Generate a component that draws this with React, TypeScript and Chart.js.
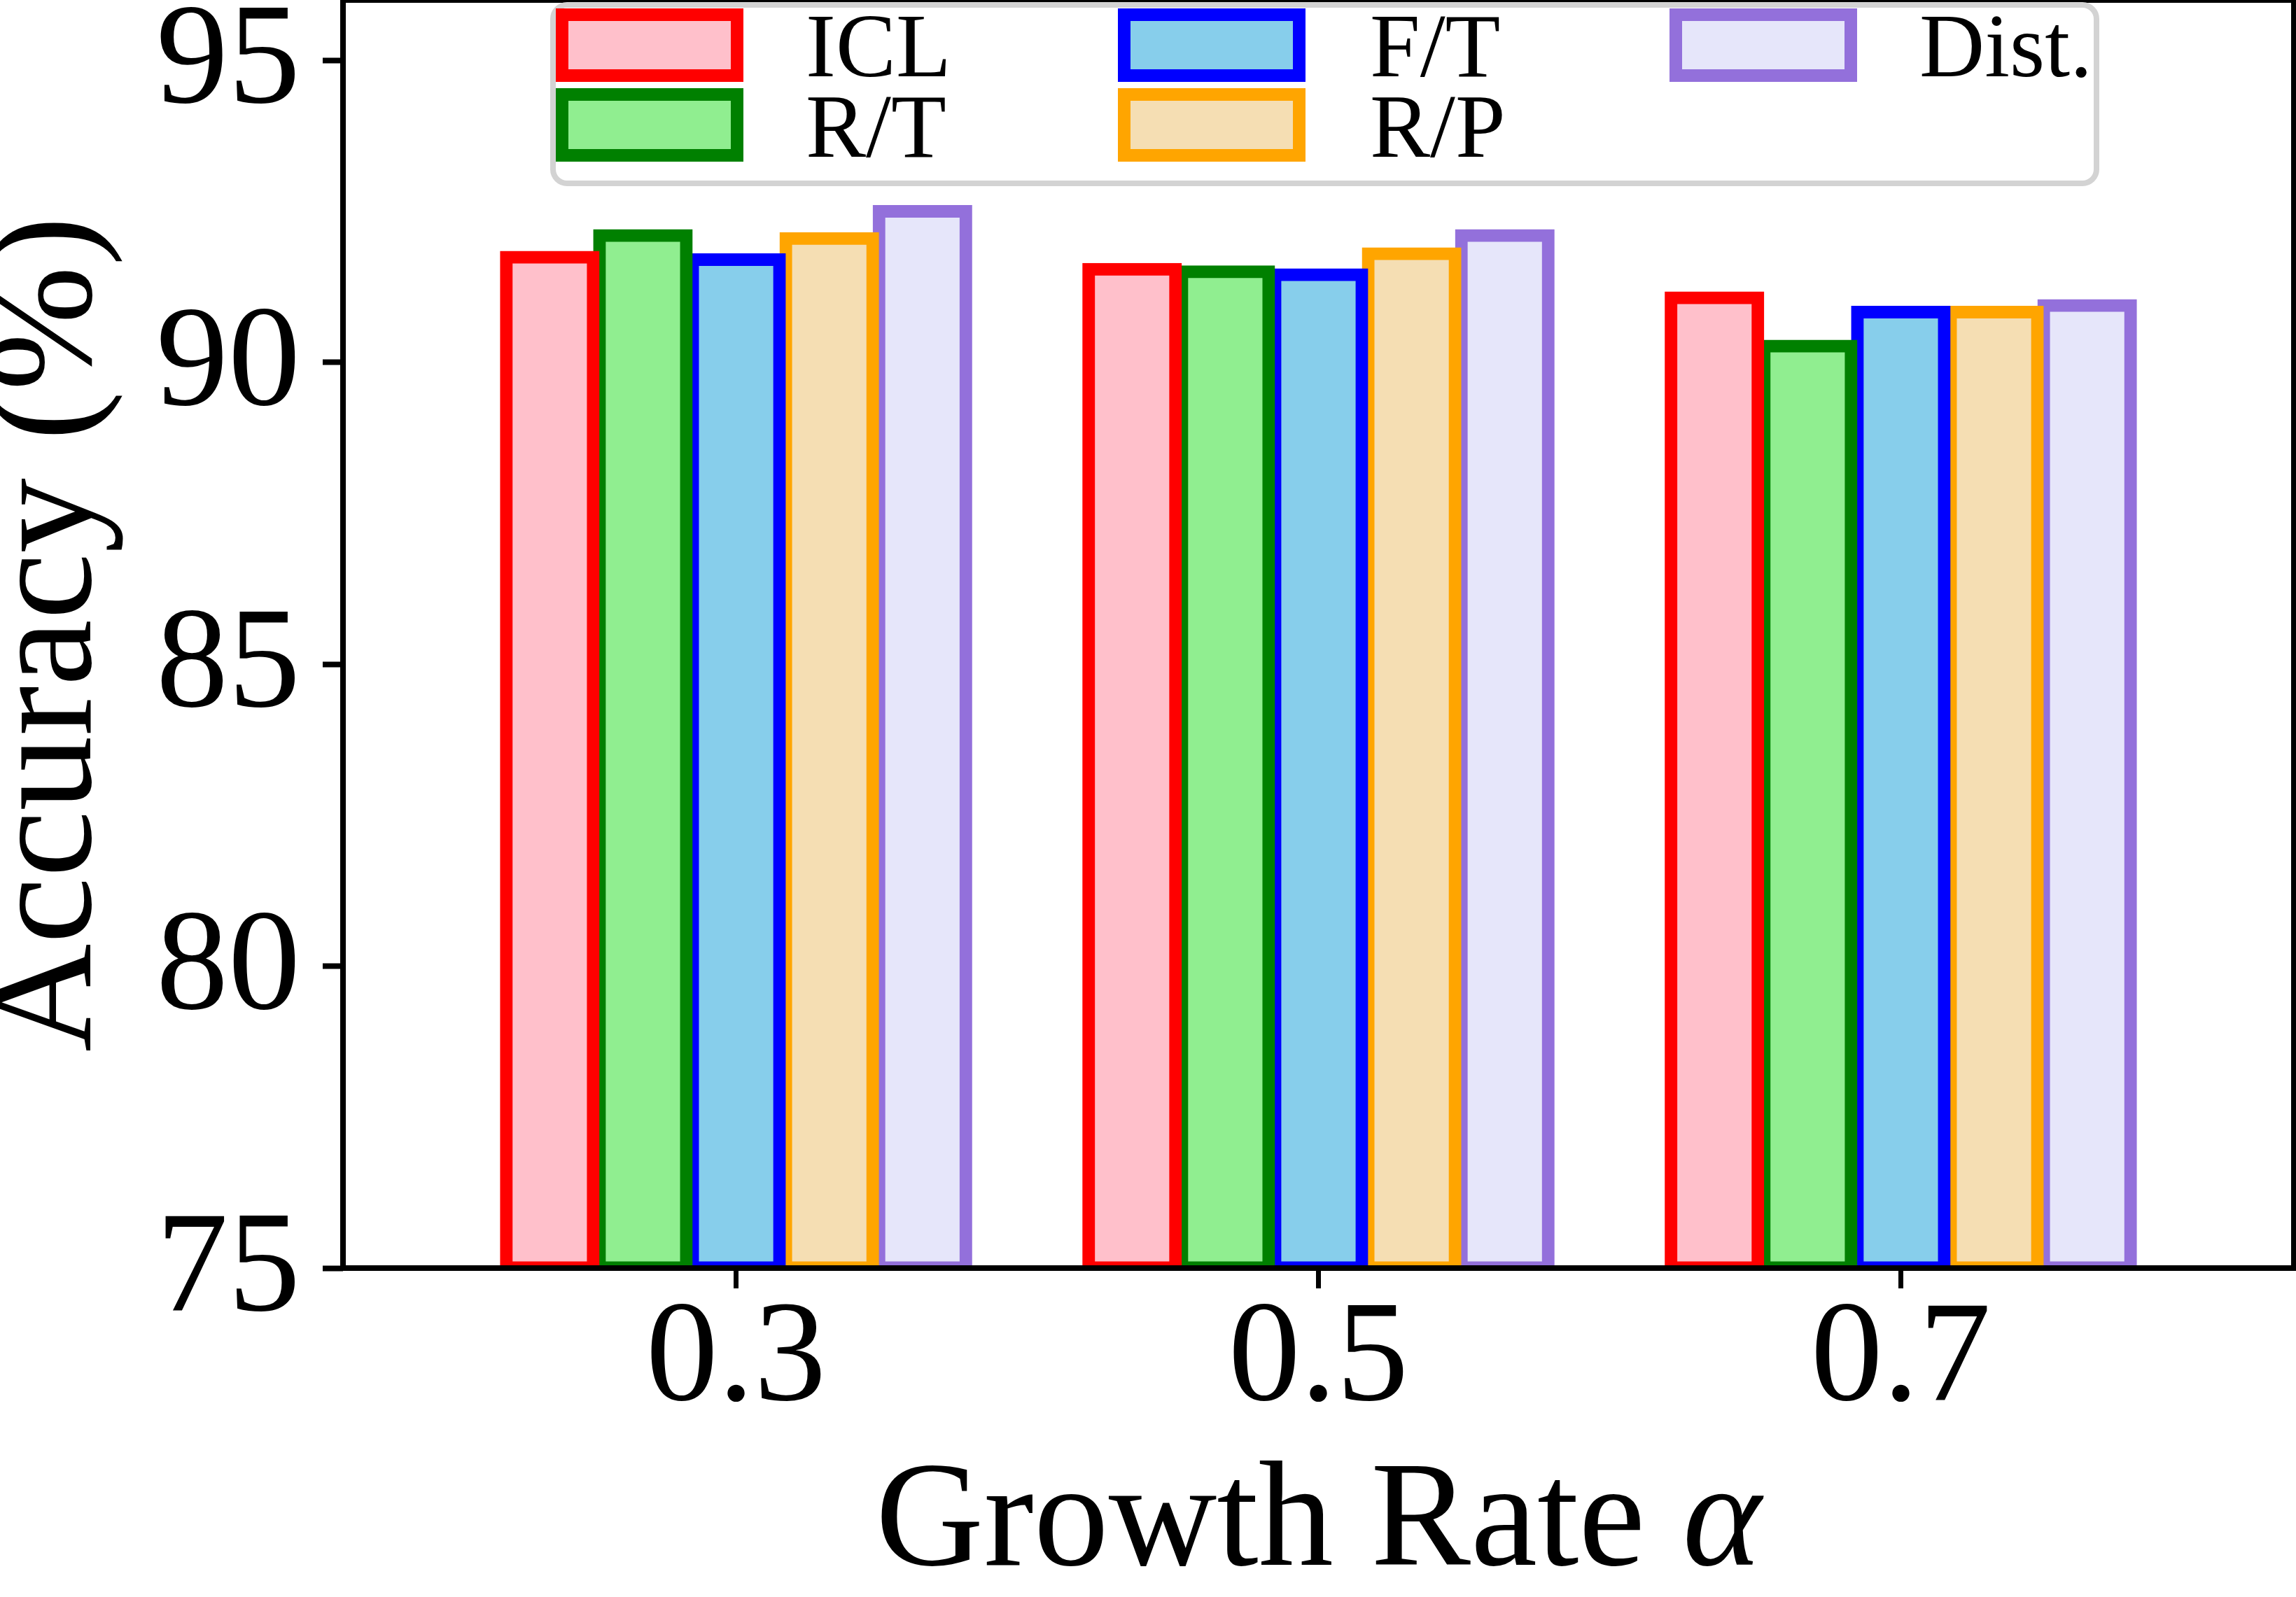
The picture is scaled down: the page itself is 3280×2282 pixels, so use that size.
import React, { useEffect, useRef } from 'react';
import { Chart, registerables } from 'chart.js';

Chart.register(...registerables);

// ---- data ----
const categories = [0.3, 0.5, 0.7];
const categoryLabels = ['0.3', '0.5', '0.7'];
const seriesNames = ['ICL', 'R/T', 'F/T', 'R/P', 'Dist.'];
const iclValues = [91.74, 91.54, 91.07];
const rtValues = [92.1, 91.5, 90.27];
const ftValues = [91.7, 91.45, 90.83];
const rpValues = [92.05, 91.8, 90.83];
const distValues = [92.5, 92.1, 90.94];
const yTickValues = [75, 80, 85, 90, 95];
const yTickLabels = ['75', '80', '85', '90', '95'];
const xAxisTitle = 'Growth Rate ';
const xAxisSymbol = 'α';
const yAxisTitle = 'Accuracy (%)';

// ---- styles ----
const FAMILY = '"Liberation Serif", "Times New Roman", serif';
const edgeColors = ['#ff0000', '#008000', '#0000ff', '#ffa500', '#9370db'];
const fillColors = ['#ffc0cb', '#90ee90', '#87ceeb', '#f5deb3', '#e6e6fa'];
const seriesValues = [iclValues, rtValues, ftValues, rpValues, distValues];

const framePlugin = {
  id: 'axesFrame',
  afterDatasetsDraw(chart: any) {
    const { ctx, chartArea } = chart;
    ctx.save();
    ctx.lineWidth = 8;
    ctx.strokeStyle = '#000';
    ctx.strokeRect(chartArea.left, chartArea.top, chartArea.right - chartArea.left, chartArea.bottom - chartArea.top);
    ctx.restore();
  },
};

function roundRectPath(ctx: CanvasRenderingContext2D, x: number, y: number, w: number, h: number, r: number) {
  ctx.beginPath();
  ctx.moveTo(x + r, y);
  ctx.lineTo(x + w - r, y);
  ctx.arcTo(x + w, y, x + w, y + r, r);
  ctx.lineTo(x + w, y + h - r);
  ctx.arcTo(x + w, y + h, x + w - r, y + h, r);
  ctx.lineTo(x + r, y + h);
  ctx.arcTo(x, y + h, x, y + h - r, r);
  ctx.lineTo(x, y + r);
  ctx.arcTo(x, y, x + r, y, r);
  ctx.closePath();
}

const legendPlugin = {
  id: 'columnLegend',
  afterDraw(chart: any) {
    const ctx: CanvasRenderingContext2D = chart.ctx;
    ctx.save();
    roundRectPath(ctx, 790, 7, 2205, 255, 20);
    ctx.fillStyle = '#ffffff';
    ctx.fill();
    ctx.lineWidth = 8;
    ctx.strokeStyle = '#d3d3d3';
    ctx.stroke();
    const colX = [803, 1606, 2394];
    const textX = [1151, 1957, 2742];
    const rowY = [21, 135];
    const baseY = [109, 224];
    chart.data.datasets.forEach((ds: any, i: number) => {
      const col = Math.floor(i / 2);
      const row = i % 2;
      const x = colX[col];
      const y = rowY[row];
      ctx.fillStyle = ds.backgroundColor;
      ctx.fillRect(x, y, 250, 87);
      ctx.lineWidth = 18;
      ctx.strokeStyle = ds.borderColor;
      ctx.strokeRect(x, y, 250, 87);
      ctx.fillStyle = '#000';
      ctx.font = `129px ${FAMILY}`;
      ctx.textAlign = 'left';
      ctx.textBaseline = 'alphabetic';
      ctx.fillText(ds.label, textX[col], baseY[row]);
    });
    ctx.restore();
  },
};

const xTitlePlugin = {
  id: 'xTitle',
  afterDraw(chart: any) {
    const { ctx, chartArea } = chart;
    ctx.save();
    const f1 = `214px ${FAMILY}`;
    const f2 = `italic 214px ${FAMILY}`;
    ctx.font = f1;
    const w1 = ctx.measureText(xAxisTitle).width;
    ctx.font = f2;
    const w2 = ctx.measureText(xAxisSymbol).width;
    const cx = (chartArea.left + chartArea.right) / 2;
    const x0 = cx - (w1 + w2) / 2;
    ctx.fillStyle = '#000';
    ctx.textAlign = 'left';
    ctx.textBaseline = 'alphabetic';
    ctx.font = f1;
    ctx.fillText(xAxisTitle, x0, 2236);
    ctx.font = f2;
    ctx.fillText(xAxisSymbol, x0 + w1, 2236);
    ctx.restore();
  },
};

export default function App() {
  const ref = useRef<HTMLCanvasElement | null>(null);
  useEffect(() => {
    if (!ref.current) return;
    const datasets = seriesNames.map((name, i) => ({
      label: name,
      data: seriesValues[i].map((v, j) => ({ x: categories[j], y: v })),
      backgroundColor: fillColors[i],
      borderColor: edgeColors[i],
      borderWidth: 18,
      borderSkipped: false,
      inflateAmount: 9,
      base: 75,
      clip: 0,
      barPercentage: 0.933,
      categoryPercentage: 0.8,
    }));
    const chart = new Chart(ref.current, {
      type: 'bar',
      data: { datasets } as any,
      options: {
        animation: false,
        responsive: true,
        maintainAspectRatio: false,
        devicePixelRatio: 1,
        events: [],
        layout: { padding: { left: 0, top: 0, right: 3, bottom: 0 } },
        plugins: { legend: { display: false }, tooltip: { enabled: false }, title: { display: false } },
        scales: {
          x: {
            type: 'linear',
            min: 0.165,
            max: 0.835,
            offset: false,
            afterBuildTicks: (s: any) => {
              s.ticks = categories.map((v) => ({ value: v }));
            },
            afterFit: (s: any) => {
              s.height = 470;
              s.paddingLeft = 0;
              s.paddingRight = 0;
            },
            ticks: {
              font: { family: FAMILY, size: 206, lineHeight: 1 },
              color: '#000',
              padding: 2,
              maxRotation: 0,
              autoSkip: false,
              callback: (_v: any, i: number) => categoryLabels[i],
            },
            grid: {
              display: true,
              offset: false,
              drawOnChartArea: false,
              drawTicks: true,
              tickLength: 29,
              tickWidth: 7,
              tickColor: '#000',
            },
            border: { display: false },
          },
          y: {
            type: 'linear',
            min: 75,
            max: 96,
            afterBuildTicks: (s: any) => {
              s.ticks = yTickValues.map((v) => ({ value: v }));
            },
            afterFit: (s: any) => {
              s.width = 490;
              s.paddingTop = 0;
              s.paddingBottom = 0;
            },
            ticks: {
              font: { family: FAMILY, size: 206, lineHeight: 1 },
              color: '#000',
              padding: 32,
              labelOffset: 6,
              callback: (_v: any, i: number) => yTickLabels[i],
            },
            grid: {
              display: true,
              drawOnChartArea: false,
              drawTicks: true,
              tickLength: 29,
              tickWidth: 8,
              tickColor: '#000',
            },
            border: { display: false },
            title: {
              display: true,
              text: yAxisTitle,
              color: '#000',
              font: { family: FAMILY, size: 214, lineHeight: 1 },
              padding: { top: -34, bottom: 0 },
            },
          },
        },
      } as any,
      plugins: [framePlugin, legendPlugin, xTitlePlugin],
    });
    return () => chart.destroy();
  }, []);
  return (
    <div style={{ position: 'fixed', left: 0, top: 0, width: '3280px', height: '2282px', background: '#ffffff' }}>
      <canvas ref={ref} />
    </div>
  );
}
